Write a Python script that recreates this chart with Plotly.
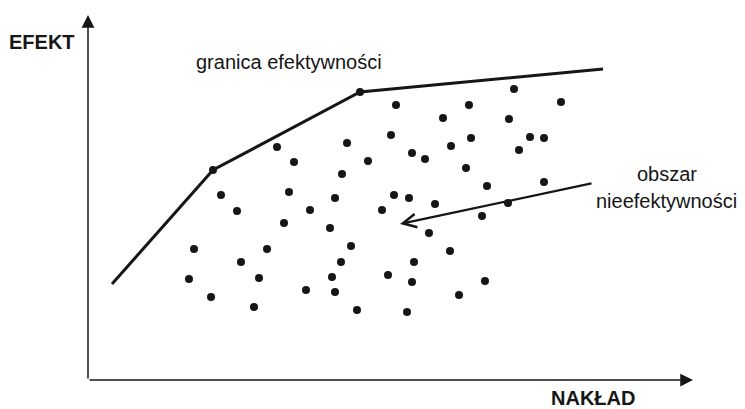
import plotly.graph_objects as go

# Inefficient units (NAKŁAD = input, EFEKT = effect), arbitrary units
naklad = [189, 259, 206, 280, 254, 133, 201, 247, 149, 222,
          426, 308, 381, 473, 355, 421, 303, 383, 442, 456,
          363, 324, 337, 431, 378, 399, 456, 306, 321, 347,
          420, 294, 196, 242, 394, 341, 106, 179, 263, 362,
          153, 253, 326, 101, 171, 244, 300, 324, 397, 218,
          247, 371, 123, 166, 269, 319]
efekt = [233, 237, 218, 219, 206, 185, 188, 182, 169, 170,
         291, 275, 275, 278, 262, 261, 245, 242, 243, 242,
         234, 227, 221, 230, 212, 194, 198, 185, 182, 176,
         177, 170, 157, 152, 164, 147, 131, 131, 134, 129,
         118, 118, 118, 101, 102, 103, 105, 98, 99, 90,
         88, 85, 83, 73, 70, 68]

# Efficiency frontier (line) and its efficient units (vertices)
front_x = [24, 125, 272, 515]
front_y = [96, 210, 288, 311]
vert_x = [125, 272]
vert_y = [210, 288]

ink = "#161616"
font_family = "Liberation Sans, Arial, sans-serif"

fig = go.Figure()

fig.add_trace(go.Scatter(
    x=front_x, y=front_y, mode="lines",
    line=dict(color=ink, width=3),
    hoverinfo="skip", showlegend=False,
))

fig.add_trace(go.Scatter(
    x=vert_x, y=vert_y, mode="markers",
    marker=dict(color=ink, size=8, line=dict(width=0)),
    hoverinfo="skip", showlegend=False,
))

fig.add_trace(go.Scatter(
    x=naklad, y=efekt, mode="markers",
    marker=dict(color=ink, size=8, line=dict(width=0)),
    hoverinfo="skip", showlegend=False,
))

annotations = [
    # y axis with arrow
    dict(x=0, y=365, ax=0, ay=0, axref="x", ayref="y", xref="x", yref="y",
         text="", showarrow=True, arrowhead=2, arrowsize=1.7, arrowwidth=1.5,
         arrowcolor=ink),
    # x axis with arrow
    dict(x=605, y=0, ax=0, ay=0, axref="x", ayref="y", xref="x", yref="y",
         text="", showarrow=True, arrowhead=2, arrowsize=1.7, arrowwidth=1.5,
         arrowcolor=ink),
    # arrow pointing into the inefficiency area
    dict(x=312, y=156, ax=505, ay=197, axref="x", ayref="y", xref="x", yref="y",
         text="", showarrow=True, arrowhead=5, arrowsize=1.2, arrowwidth=2.2,
         arrowcolor=ink),
    dict(x=-46, y=338, xref="x", yref="y", text="<b>EFEKT</b>", showarrow=False,
         font=dict(family=font_family, size=20, color=ink)),
    dict(x=505, y=-18, xref="x", yref="y", text="<b>NAKŁAD</b>", showarrow=False,
         font=dict(family=font_family, size=20, color=ink)),
    dict(x=201, y=318, xref="x", yref="y", text="granica efektywności",
         showarrow=False, font=dict(family=font_family, size=20, color=ink)),
    dict(x=579, y=206, xref="x", yref="y", text="obszar",
         showarrow=False, font=dict(family=font_family, size=20, color=ink)),
    dict(x=578, y=179, xref="x", yref="y", text="nieefektywności",
         showarrow=False, font=dict(family=font_family, size=20, color=ink)),
]

fig.update_layout(
    width=745, height=409,
    margin=dict(l=0, r=0, t=0, b=0),
    paper_bgcolor="white", plot_bgcolor="white",
    xaxis=dict(range=[-88, 657], visible=False, fixedrange=True),
    yaxis=dict(range=[-29, 380], visible=False, fixedrange=True),
    annotations=annotations,
    showlegend=False,
)

fig.write_html(
    "out.html",
    config={"displayModeBar": False},
    post_script="document.body.style.margin='0';document.body.style.overflow='hidden';",
)
